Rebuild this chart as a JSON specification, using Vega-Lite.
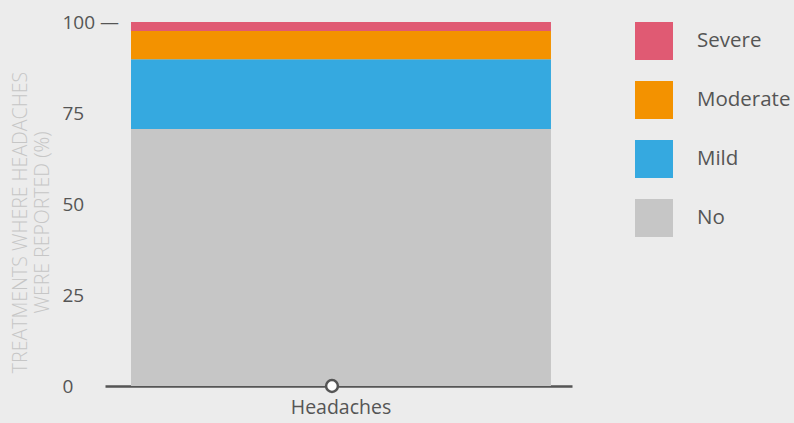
{
  "$schema": "https://vega.github.io/schema/vega-lite/v6.json",
  "width": 467,
  "height": 364,
  "autosize": {"type": "none"},
  "padding": {"left": 105, "top": 22, "right": 222, "bottom": 37},
  "background": "#ececec",
  "config": {
    "view": {"stroke": null},
    "font": "Open Sans",
    "axis": {"labelFont": "Open Sans", "titleFont": "Open Sans"},
    "legend": {"labelFont": "Open Sans"}
  },
  "data": {
    "values": [
      {"category": "Headaches", "severity": "No", "value": 70.6, "rank": 1},
      {"category": "Headaches", "severity": "Mild", "value": 19.2, "rank": 2},
      {"category": "Headaches", "severity": "Moderate", "value": 7.7, "rank": 3},
      {"category": "Headaches", "severity": "Severe", "value": 2.5, "rank": 4}
    ]
  },
  "layer": [
    {
      "mark": {"type": "bar"},
      "encoding": {
        "x": {
          "field": "category",
          "type": "nominal",
          "scale": {"paddingInner": 0, "paddingOuter": 0.056, "align": 0.553},
          "axis": {
            "title": null,
            "labelAngle": 0,
            "ticks": false,
            "domainColor": "#555555",
            "domainWidth": 2.5,
            "labelColor": "#555555",
            "labelFontSize": 19.5,
            "labelPadding": 12
          }
        },
        "y": {
          "field": "value",
          "type": "quantitative",
          "stack": "zero",
          "scale": {"domain": [0, 100], "nice": false},
          "axis": {
            "values": [0, 25, 50, 75, 100],
            "grid": false,
            "domain": false,
            "ticks": false,
            "labelAlign": "left",
            "labelBaseline": "middle",
            "labelPadding": 43,
            "labelColor": "#555555",
            "labelFontSize": 19,
            "labelExpr": "datum.value == 100 ? '100  —' : datum.label",
            "title": ["TREATMENTS WHERE HEADACHES", "WERE REPORTED (%)"],
            "titleColor": "#c6c6c6",
            "titleFontSize": 19.5,
            "titleFontWeight": 300,
            "titleLineHeight": 22,
            "titleBaseline": "top",
            "titleX": -94,
            "titleY": 200
          }
        },
        "color": {
          "field": "severity",
          "type": "nominal",
          "scale": {
            "domain": ["Severe", "Moderate", "Mild", "No"],
            "range": ["#e05a73", "#f39200", "#35a9e0", "#c6c6c6"]
          },
          "legend": {
            "title": null,
            "orient": "right",
            "offset": 63,
            "symbolType": "square",
            "symbolSize": 1444,
            "symbolStrokeWidth": 0,
            "symbolOpacity": 1,
            "labelFontSize": 20.5,
            "labelColor": "#555555",
            "labelOffset": 24,
            "rowPadding": 21
          }
        },
        "order": {"field": "rank", "type": "quantitative", "sort": "ascending"}
      }
    },
    {
      "data": {"values": [{"category": "Headaches", "value": 0}]},
      "mark": {"type": "point", "filled": true, "fill": "#ffffff", "stroke": "#555555", "strokeWidth": 2.5, "size": 140, "opacity": 1, "xOffset": -9},
      "encoding": {
        "x": {"field": "category", "type": "nominal"},
        "y": {"field": "value", "type": "quantitative"}
      }
    }
  ]
}
